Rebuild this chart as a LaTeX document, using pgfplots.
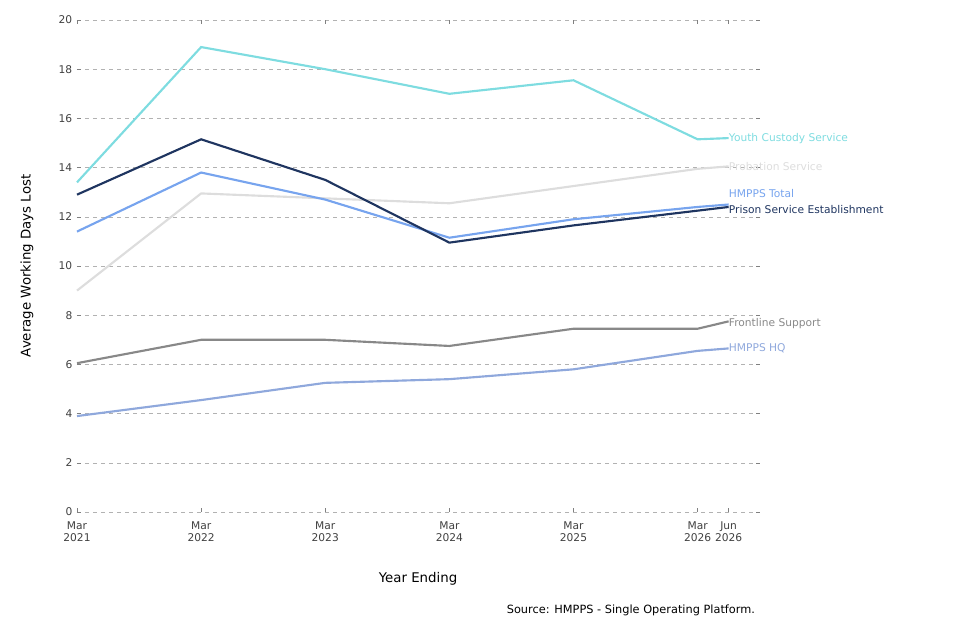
\documentclass[border=0pt]{standalone}
\usepackage{pgfplots}
\pgfplotsset{compat=1.18}
\usepackage{fontspec}
\setmainfont{DejaVu Sans}
\begin{document}
\begin{tikzpicture}
\path[use as bounding box] (-57.75pt,-96pt) rectangle (662.25pt,384pt);
\begin{axis}[at={(0,0)},anchor=origin,
  scale only axis, width=512pt, height=369pt,
  xmin=0, xmax=66, ymin=0, ymax=20,
  axis line style={draw=none},
  ymajorgrids, grid style={dashed,gray!60},
  ytick={0,2,...,20},
  xtick={0,12,24,36,48,60,63},
  xticklabels={Mar\\2021,Mar\\2022,Mar\\2023,Mar\\2024,Mar\\2025,Mar\\2026,Jun\\2026},
  xticklabel style={align=center,font=\fontsize{8}{9}\selectfont,text=black!75,yshift=-4pt},
  yticklabel style={font=\fontsize{8}{9}\selectfont,text=black!75},
  /pgf/number format/assume math mode=true,
  tick style={gray,thin}, major tick length=3pt,
  clip=false, every axis plot/.append style={line width=1.6pt},
]
\definecolor{cy}{HTML}{7EDCE0}\definecolor{cp}{HTML}{DDDDDD}
\definecolor{ct}{HTML}{77A4EE}\definecolor{cs}{HTML}{1F3560}
\definecolor{cf}{HTML}{888888}\definecolor{ch}{HTML}{8FA8DC}
\addplot[cy] coordinates {(0,13.4)(12,18.9)(24,18.0)(36,17.0)(48,17.55)(60,15.15)(63,15.2)};
\addplot[cp] coordinates {(0,9.0)(12,12.95)(24,12.75)(36,12.55)(48,13.25)(60,13.95)(63,14.05)};
\addplot[ct] coordinates {(0,11.4)(12,13.8)(24,12.7)(36,11.15)(48,11.9)(60,12.4)(63,12.5)};
\addplot[cs] coordinates {(0,12.9)(12,15.15)(24,13.5)(36,10.95)(48,11.65)(60,12.25)(63,12.4)};
\addplot[cf] coordinates {(0,6.05)(12,7.0)(24,7.0)(36,6.75)(48,7.45)(60,7.45)(63,7.75)};
\addplot[ch] coordinates {(0,3.9)(12,4.55)(24,5.25)(36,5.4)(48,5.8)(60,6.55)(63,6.65)};
\begin{scope}[font=\fontsize{8}{9}\selectfont]
\node[anchor=west,text=cy,inner sep=0pt] at (axis cs:63,15.2) {Youth Custody Service};
\node[anchor=west,text=cp,inner sep=0pt] at (axis cs:63,14.05) {Probation Service};
\node[anchor=west,text=ct,inner sep=0pt] at (axis cs:63,12.95) {HMPPS Total};
\node[anchor=west,text=cs,inner sep=0pt] at (axis cs:63,12.3) {Prison Service Establishment};
\node[anchor=west,text=cf,inner sep=0pt] at (axis cs:63,7.65) {Frontline Support};
\node[anchor=west,text=ch,inner sep=0pt] at (axis cs:63,6.65) {HMPPS HQ};
\end{scope}
\end{axis}
\node[font=\fontsize{10}{12}\selectfont] at (255.75pt,-50pt) {Year Ending};
\node[font=\fontsize{10}{12}\selectfont,rotate=90] at (-37.5pt,184.5pt) {Average Working Days Lost};
\node[font=\fontsize{8.5}{10}\selectfont,anchor=east] at (512pt,-74pt) {Source: HMPPS - Single Operating Platform.};
\end{tikzpicture}
\end{document}
